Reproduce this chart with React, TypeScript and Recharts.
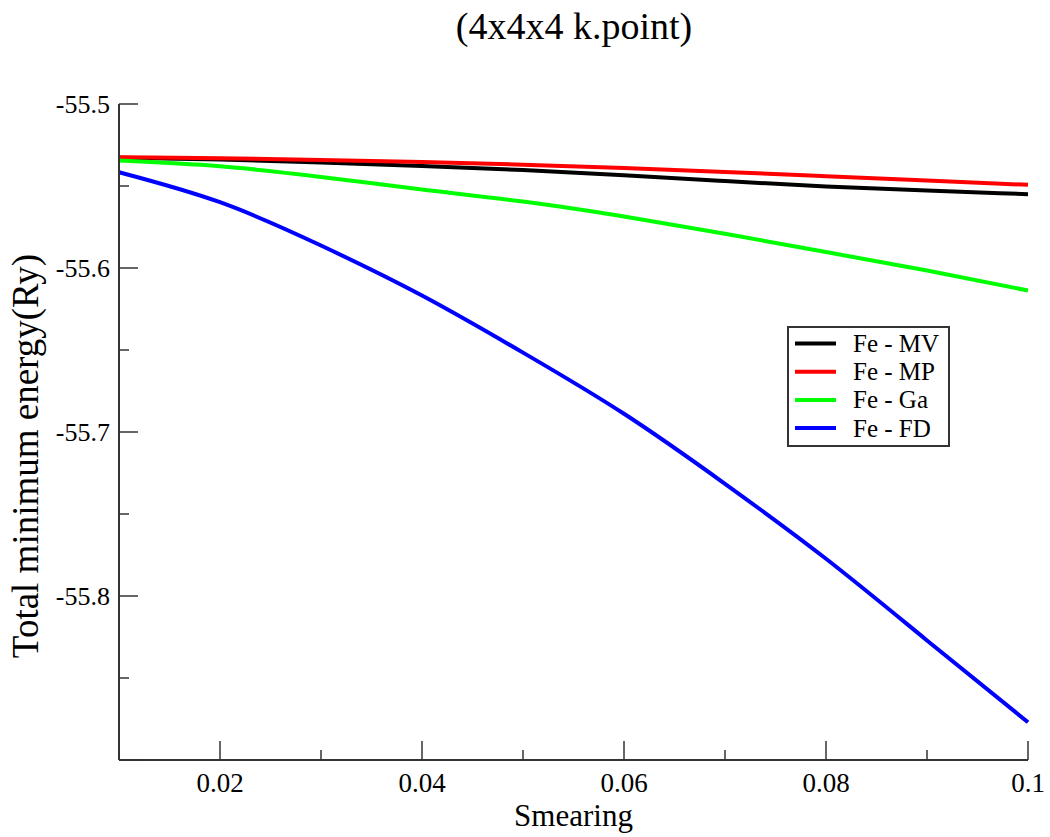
import { Label, Legend, Line, LineChart, XAxis, YAxis } from "recharts";

// smearing values (Ry) and total minimum energy (Ry) for each smearing scheme
const smearing = [0.01, 0.02, 0.03, 0.04, 0.05, 0.06, 0.07, 0.08, 0.09, 0.1];
const feMV = [-55.5327, -55.5338, -55.5356, -55.5378, -55.5403, -55.5435, -55.547, -55.5503, -55.5528, -55.555];
const feMP = [-55.5324, -55.5331, -55.5341, -55.5354, -55.537, -55.539, -55.5414, -55.544, -55.5466, -55.5493];
const feGa = [-55.5345, -55.538, -55.5445, -55.5521, -55.5595, -55.5686, -55.5791, -55.5903, -55.6015, -55.6137];
const feFD = [-55.5416, -55.5599, -55.5863, -55.6168, -55.6516, -55.6889, -55.7316, -55.7773, -55.8271, -55.877];

const xTicks = [0.01, 0.02, 0.03, 0.04, 0.05, 0.06, 0.07, 0.08, 0.09, 0.1];
const xLabeled = [0.02, 0.04, 0.06, 0.08, 0.1];
const yTicks = [-55.9, -55.85, -55.8, -55.75, -55.7, -55.65, -55.6, -55.55, -55.5];
const yLabeled = [-55.8, -55.7, -55.6, -55.5];

const seriesNames = ["Fe - MV", "Fe - MP", "Fe - Ga", "Fe - FD"];
const seriesKeys = ["mv", "mp", "ga", "fd"];
const seriesColors = ["#000000", "#ff0000", "#00ff00", "#0000ff"];
const seriesValues = [feMV, feMP, feGa, feFD];

const data = smearing.map((x, i) => {
  const row: Record<string, number> = { x };
  seriesKeys.forEach((k, s) => (row[k] = seriesValues[s][i]));
  return row;
});

const FONT = "'Liberation Serif', 'Times New Roman', serif";
const FRAME = "#333333";
const MAJOR = 19;
const MINOR = 10;
const txt = { fontFamily: FONT };

const has = (list: number[], v: number) => list.some((t) => Math.abs(t - v) < 1e-9);
const isMajorY = (v: number) => Math.abs(Math.round(v * 100) % 10) === 0;

function BottomTick({ x, y, payload }: any) {
  const major = has(xLabeled, payload.value);
  return (
    <g>
      <line x1={x} x2={x} y1={y} y2={y - (major ? MAJOR : MINOR)} stroke={FRAME} strokeWidth={1.5} />
      {major && (
        <text x={x} y={y + 32} textAnchor="middle" fontSize={27} style={txt} fill="#000">
          {String(payload.value)}
        </text>
      )}
    </g>
  );
}

function TopTick({ x, y, payload }: any) {
  const major = has(xLabeled, payload.value);
  return <line x1={x} x2={x} y1={y} y2={y + (major ? MAJOR : MINOR)} stroke={FRAME} strokeWidth={1.5} />;
}

function LeftTick({ x, y, payload }: any) {
  return (
    <g>
      <line x1={x} x2={x + (isMajorY(payload.value) ? MAJOR : MINOR)} y1={y} y2={y} stroke={FRAME} strokeWidth={1.5} />
      {has(yLabeled, payload.value) && (
        <text x={x - 9} y={y + 9} textAnchor="end" fontSize={26} style={txt} fill="#000">
          {String(payload.value)}
        </text>
      )}
    </g>
  );
}

function RightTick({ x, y, payload }: any) {
  return <line x1={x} x2={x - (isMajorY(payload.value) ? MAJOR : MINOR)} y1={y} y2={y} stroke={FRAME} strokeWidth={1.5} />;
}

function LegendBox() {
  return (
    <svg width={163} height={121} style={{ display: "block" }}>
      <rect x={1} y={1} width={161} height={119} fill="#fff" stroke={FRAME} strokeWidth={2} />
      {seriesNames.map((name, i) => (
        <g key={name}>
          <line x1={8} x2={49} y1={17.5 + i * 28.2} y2={17.5 + i * 28.2} stroke={seriesColors[i]} strokeWidth={4} />
          <text x={66} y={26 + i * 28.2} fontSize={25} style={txt} fill="#000">
            {name}
          </text>
        </g>
      ))}
    </svg>
  );
}

export default function App() {
  return (
    <div style={{ position: "absolute", left: 0, top: 0, width: 1050, height: 837, background: "#fff", fontFamily: FONT }}>
      <LineChart width={1050} height={837} data={data} margin={{ top: 104, right: 22, bottom: 0, left: 0 }}>
        <text x={574} y={39} textAnchor="middle" fontSize={38} style={txt} fill="#000">
          (4x4x4 k.point)
        </text>
        <text x={38} y={456} transform="rotate(-90 38 456)" textAnchor="middle" fontSize={37} style={txt} fill="#000">
          Total minimum energy(Ry)
        </text>
        <XAxis
          dataKey="x"
          type="number"
          domain={[0.01, 0.1]}
          ticks={xTicks}
          interval={0}
          height={77}
          tickLine={false}
          tickSize={0}
          tickMargin={0}
          axisLine={{ stroke: FRAME, strokeWidth: 2 }}
          tick={<BottomTick />}
        >
          <Label
            content={({ viewBox }: any) => (
              <text x={viewBox.x + viewBox.width / 2} y={826} textAnchor="middle" fontSize={31} style={txt} fill="#000">
                Smearing
              </text>
            )}
          />
        </XAxis>
        <XAxis
          xAxisId="top"
          orientation="top"
          dataKey="x"
          type="number"
          domain={[0.01, 0.1]}
          ticks={xTicks}
          interval={0}
          height={0}
          tickLine={false}
          tickSize={0}
          tickMargin={0}
          axisLine={{ stroke: FRAME, strokeWidth: 2 }}
          tick={<TopTick />}
        />
        <YAxis
          type="number"
          domain={[-55.9, -55.5]}
          ticks={yTicks}
          interval={0}
          width={119}
          tickLine={false}
          tickSize={0}
          tickMargin={0}
          axisLine={{ stroke: FRAME, strokeWidth: 2 }}
          tick={<LeftTick />}
        />
        <YAxis
          yAxisId="right"
          orientation="right"
          type="number"
          domain={[-55.9, -55.5]}
          ticks={yTicks}
          interval={0}
          width={0}
          tickLine={false}
          tickSize={0}
          tickMargin={0}
          axisLine={{ stroke: FRAME, strokeWidth: 2 }}
          tick={<RightTick />}
        />
        {seriesKeys.map((k, i) => (
          <Line
            key={k}
            dataKey={k}
            name={seriesNames[i]}
            type="natural"
            stroke={seriesColors[i]}
            strokeWidth={4}
            dot={false}
            isAnimationActive={false}
          />
        ))}
        <Legend
          layout="horizontal"
          verticalAlign="middle"
          content={() => <LegendBox />}
          wrapperStyle={{ position: "absolute", left: 787, top: 326, width: 163, height: 121 }}
        />
      </LineChart>
    </div>
  );
}
